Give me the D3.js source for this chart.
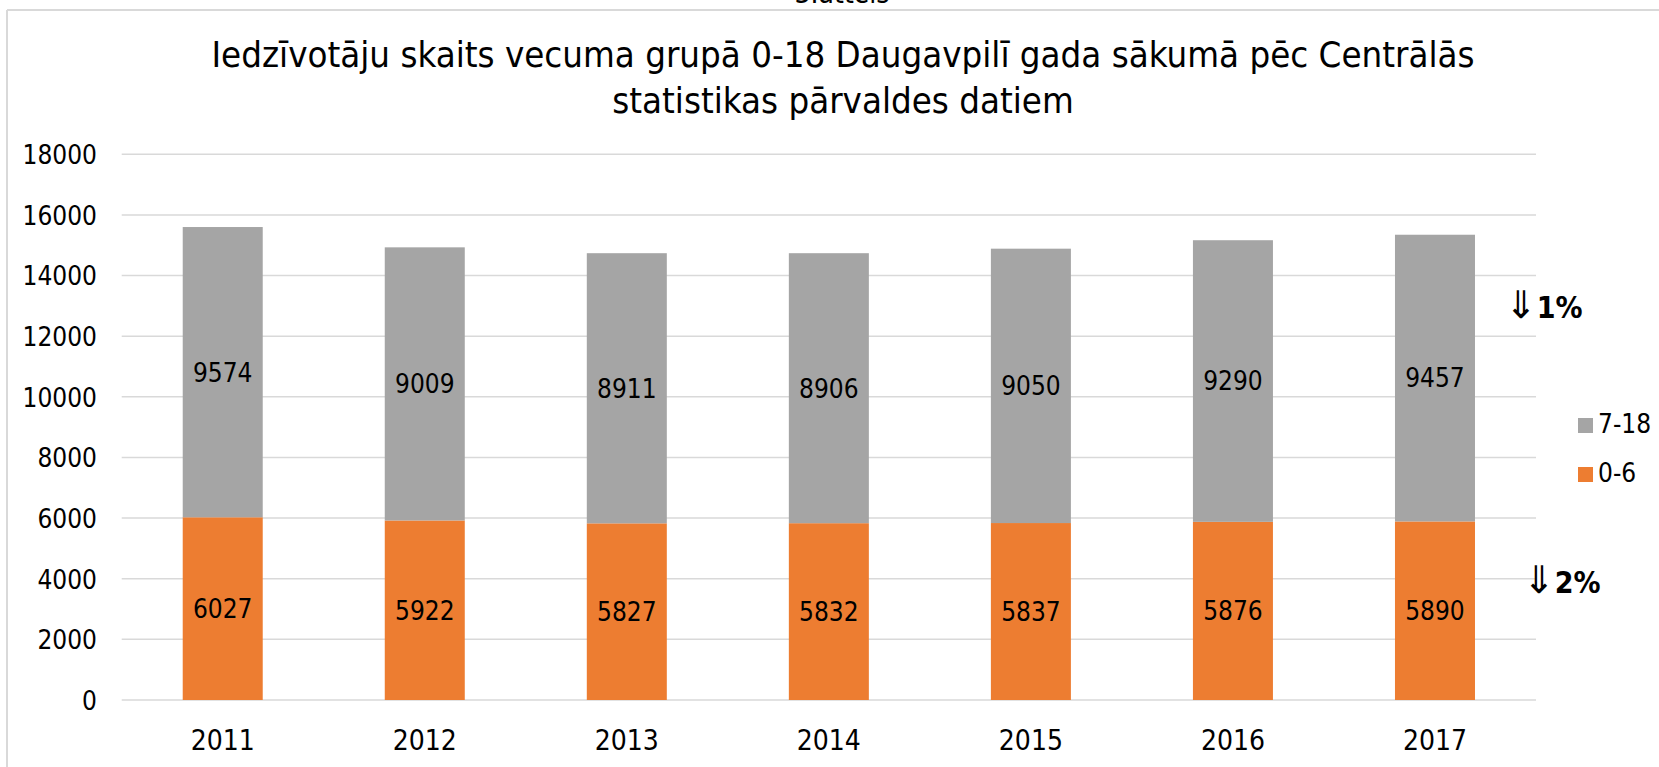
<!DOCTYPE html>
<html>
<head>
<meta charset="utf-8">
<script src="https://cdn.jsdelivr.net/npm/d3@7"></script>
<style>
  html, body { margin: 0; padding: 0; background: #fff; }
  svg { display: block; font-family: "DejaVu Sans Condensed", "DejaVu Sans", sans-serif; }
</style>
</head>
<body>
<div id="viz"></div>
<script>
const years = ["2011", "2012", "2013", "2014", "2015", "2016", "2017"];
const age0to6 = [6027, 5922, 5827, 5832, 5837, 5876, 5890];
const age7to18 = [9574, 9009, 8911, 8906, 9050, 9290, 9457];
const seriesKeys = ["0-6", "7-18"];
const legendOrder = ["7-18", "0-6"];
const yTicks = [0, 2000, 4000, 6000, 8000, 10000, 12000, 14000, 16000, 18000];
const titleLines = [
  "Iedzīvotāju skaits vecuma grupā 0-18 Daugavpilī gada sākumā pēc Centrālās",
  "statistikas pārvaldes datiem"
];
const changeNotes = [
  {key: "7-18", arrow: "⇓", pct: "1%"},
  {key: "0-6", arrow: "⇓", pct: "2%"}
];

const WIDTH = 1659, HEIGHT = 767;
const COLORS = {"0-6": "#ED7D31", "7-18": "#A5A5A5", grid: "#D9D9D9", text: "#000"};

const rows = years.map((y, i) => ({year: y, "0-6": age0to6[i], "7-18": age7to18[i]}));
const stacked = d3.stack().keys(seriesKeys)(rows);

const svg = d3.select("#viz").append("svg")
  .attr("width", WIDTH)
  .attr("height", HEIGHT);

// chart frame (only top and left edges are in view)
svg.append("line")
  .attr("x1", 7).attr("x2", WIDTH).attr("y1", 10).attr("y2", 10)
  .attr("stroke", COLORS.grid).attr("stroke-width", 2);
svg.append("line")
  .attr("x1", 7).attr("x2", 7).attr("y1", 10).attr("y2", HEIGHT)
  .attr("stroke", COLORS.grid).attr("stroke-width", 2);

// figure caption above the frame, cut off by the page edge as in the source
svg.append("text")
  .attr("x", 842).attr("y", 3)
  .attr("text-anchor", "middle")
  .style("font-size", "28px")
  .text("3.attēls");

const x = d3.scaleBand()
  .domain(years)
  .range([121.7, 1536])
  .paddingInner(0.604)
  .paddingOuter(0.302);

const y = d3.scaleLinear()
  .domain([0, 18000])
  .range([700, 154.3]);

// title
svg.append("text")
  .attr("x", 843)
  .attr("text-anchor", "middle")
  .style("font-size", "36.3px")
  .selectAll("tspan")
  .data(titleLines)
  .join("tspan")
  .attr("x", 843)
  .attr("y", (d, i) => 66.7 + i * 46.5)
  .text(d => d);

// gridlines
svg.append("g")
  .selectAll("line")
  .data(yTicks)
  .join("line")
  .attr("x1", x.range()[0])
  .attr("x2", x.range()[1])
  .attr("y1", d => y(d))
  .attr("y2", d => y(d))
  .attr("stroke", COLORS.grid)
  .attr("stroke-width", 1.5);

// y axis labels
const yAxis = svg.append("g")
  .attr("transform", "translate(97,0)")
  .call(d3.axisLeft(y).tickValues(yTicks).tickSize(0).tickPadding(0).tickFormat(d3.format("d")));
yAxis.select(".domain").remove();
yAxis.selectAll("text")
  .attr("dy", "0.36em")
  .style("font-size", "26px")
  .style("font-family", "'DejaVu Sans Condensed', 'DejaVu Sans', sans-serif")
  .attr("fill", COLORS.text);

// x axis labels
const xAxis = svg.append("g")
  .attr("transform", "translate(0,750)")
  .call(d3.axisBottom(x).tickSize(0).tickPadding(0));
xAxis.select(".domain").remove();
xAxis.selectAll("text")
  .attr("dy", 0)
  .style("font-size", "28px")
  .style("font-family", "'DejaVu Sans Condensed', 'DejaVu Sans', sans-serif")
  .attr("fill", COLORS.text);

// stacked bars
const layers = svg.append("g")
  .selectAll("g")
  .data(stacked)
  .join("g")
  .attr("fill", d => COLORS[d.key]);

layers.selectAll("rect")
  .data(d => d)
  .join("rect")
  .attr("x", d => x(d.data.year))
  .attr("y", d => y(d[1]))
  .attr("width", x.bandwidth())
  .attr("height", d => y(d[0]) - y(d[1]));

// value labels centred in each segment
layers.selectAll("text")
  .data(d => d)
  .join("text")
  .attr("x", d => x(d.data.year) + x.bandwidth() / 2)
  .attr("y", d => (y(d[0]) + y(d[1])) / 2)
  .attr("dy", "0.36em")
  .attr("text-anchor", "middle")
  .attr("fill", COLORS.text)
  .style("font-size", "26px")
  .text(d => d[1] - d[0]);

// legend
const legend = svg.append("g")
  .selectAll("g")
  .data(legendOrder)
  .join("g")
  .attr("transform", (d, i) => `translate(1578,${418 + i * 49})`);
legend.append("rect")
  .attr("width", 15).attr("height", 15)
  .attr("fill", d => COLORS[d]);
legend.append("text")
  .attr("x", 20).attr("y", 15)
  .style("font-size", "26px")
  .text(d => d);

// change notes next to the last bar
const notePos = {"7-18": {x: 1505, y: 318}, "0-6": {x: 1523, y: 593}};
const notes = svg.append("g")
  .selectAll("text")
  .data(changeNotes)
  .join("text")
  .attr("x", d => notePos[d.key].x)
  .attr("y", d => notePos[d.key].y);
notes.append("tspan")
  .style("font-size", "38px")
  .style("font-family", "'DejaVu Sans', sans-serif")
  .text(d => d.arrow);
notes.append("tspan")
  .style("font-size", "30px")
  .style("font-weight", "bold")
  .text(d => d.pct);
</script>
</body>
</html>
